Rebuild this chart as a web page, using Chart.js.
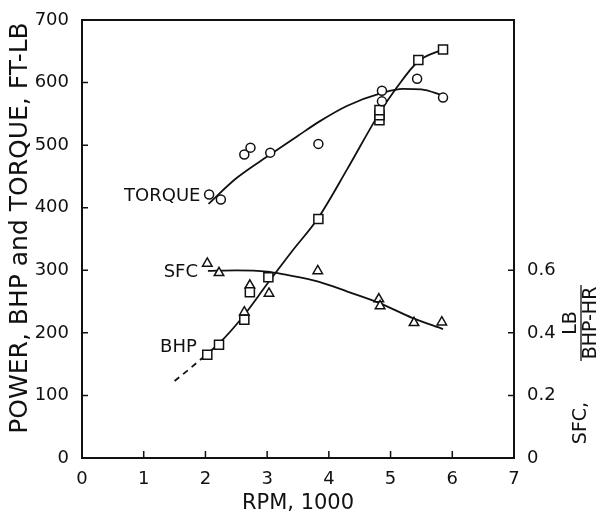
<!DOCTYPE html>
<html>
<head>
<meta charset="utf-8">
<script src="https://cdn.jsdelivr.net/npm/chart.js@4.4.1/dist/chart.umd.min.js"></script>
<style>
  html, body { margin: 0; padding: 0; background: #fff; }
  canvas { display: block; }
</style>
</head>
<body>
<canvas id="engine" width="606" height="517"></canvas>
<script>
const torqueRpm = [2.06, 2.25, 2.63, 2.73, 3.05, 3.83, 4.86, 4.86, 5.43, 5.85];
const torqueVal = [421, 413, 485, 496, 488, 502, 587, 570, 606, 576];

const bhpRpm = [2.03, 2.22, 2.63, 2.72, 3.02, 3.83, 4.82, 4.82, 4.82, 5.45, 5.85];
const bhpVal = [165, 181, 221, 265, 289, 382, 540, 548, 556, 636, 653];

const sfcRpm = [2.03, 2.22, 2.63, 2.72, 3.03, 3.82, 4.81, 4.83, 5.38, 5.83];
const sfcVal = [0.622, 0.592, 0.466, 0.552, 0.526, 0.598, 0.508, 0.486, 0.432, 0.434];

// faired curves drawn through the points
const torqueCurveRpm = [2.05, 2.5, 3.05, 3.5, 3.85, 4.3, 4.85, 5.2, 5.5, 5.83];
const torqueCurveVal = [406, 447, 485, 515, 538, 563, 583, 590, 589, 580];

const bhpCurveRpm = [2.0, 2.22, 2.6, 3.0, 3.4, 3.83, 4.3, 4.8, 5.1, 5.45, 5.85];
const bhpCurveVal = [164, 183, 225, 278, 330, 384, 462, 548, 592, 634, 653];

const bhpDashRpm = [1.5, 1.75, 2.0];
const bhpDashVal = [123, 143, 164];

const sfcCurveRpm = [2.04, 2.5, 3.0, 3.3, 3.83, 4.3, 4.81, 5.35, 5.85];
const sfcCurveVal = [0.598, 0.600, 0.596, 0.586, 0.564, 0.532, 0.496, 0.448, 0.412];

const xTicks = [0, 1, 2, 3, 4, 5, 6, 7];
const yTicks = [0, 100, 200, 300, 400, 500, 600, 700];
const sfcTicks = [0, 0.2, 0.4, 0.6];

const FONT = "'DejaVu Sans', sans-serif";
const INK = '#111';

const pts = (xs, ys) => xs.map((x, i) => ({ x: x, y: ys[i] }));

function marks(xs, ys, style, r, axis) {
    return {
        data: pts(xs, ys),
        yAxisID: axis,
        showLine: false,
        pointStyle: style,
        pointRadius: r,
        pointBorderWidth: 1.5,
        pointBorderColor: INK,
        pointBackgroundColor: '#fff',
        order: 0
    };
}

function curve(xs, ys, axis, dash) {
    return {
        data: pts(xs, ys),
        yAxisID: axis,
        showLine: true,
        borderColor: INK,
        borderWidth: 1.8,
        borderDash: dash || [],
        cubicInterpolationMode: 'monotone',
        pointRadius: 0,
        fill: false,
        order: 1
    };
}

const fixedTicks = list => scale => { scale.ticks = list.map(v => ({ value: v })); };

// box, inward tick marks, curve labels and axis titles
const decorations = {
    id: 'decorations',
    afterDraw(chart) {
        const { ctx, chartArea: a, scales } = chart;
        ctx.save();
        ctx.strokeStyle = INK;
        ctx.fillStyle = INK;
        ctx.lineWidth = 2;
        ctx.strokeRect(a.left, a.top, a.right - a.left, a.bottom - a.top);

        ctx.lineWidth = 1.5;
        ctx.beginPath();
        xTicks.slice(1, -1).forEach(v => {
            const px = scales.x.getPixelForValue(v);
            ctx.moveTo(px, a.bottom); ctx.lineTo(px, a.bottom - 7);
        });
        yTicks.slice(1, -1).forEach(v => {
            const py = scales.y.getPixelForValue(v);
            ctx.moveTo(a.left, py); ctx.lineTo(a.left + 6, py);
        });
        sfcTicks.slice(1).forEach(v => {
            const py = scales.y2.getPixelForValue(v);
            ctx.moveTo(a.right, py); ctx.lineTo(a.right - 6, py);
        });
        ctx.stroke();

        // curve names
        ctx.font = '18px ' + FONT;
        ctx.textAlign = 'right';
        ctx.textBaseline = 'middle';
        ctx.fillText('TORQUE', scales.x.getPixelForValue(1.92), scales.y.getPixelForValue(418));
        ctx.fillText('SFC', scales.x.getPixelForValue(1.88), scales.y.getPixelForValue(296));
        ctx.fillText('BHP', scales.x.getPixelForValue(1.86), scales.y.getPixelForValue(177));

        // x title
        ctx.textAlign = 'center';
        ctx.font = '21px ' + FONT;
        ctx.fillText('RPM, 1000', (a.left + a.right) / 2, 504);

        // left title
        ctx.save();
        ctx.translate(20, 228);
        ctx.rotate(-Math.PI / 2);
        ctx.font = '25px ' + FONT;
        ctx.fillText('POWER, BHP and TORQUE, FT-LB', 0, 0);
        ctx.restore();

        // right title with fraction
        ctx.save();
        ctx.translate(581, 323);
        ctx.rotate(-Math.PI / 2);
        ctx.font = '19px ' + FONT;
        ctx.fillText('SFC,', -100, 0);
        ctx.fillText('LB', 0, -10);
        ctx.fillText('BHP-HR', 0, 10);
        ctx.lineWidth = 1.3;
        ctx.beginPath();
        ctx.moveTo(-38, 0); ctx.lineTo(38, 0);
        ctx.stroke();
        ctx.restore();

        ctx.restore();
    }
};

const tickFont = { family: FONT, size: 18 };

new Chart(document.getElementById('engine'), {
    type: 'scatter',
    data: {
        datasets: [
            marks(torqueRpm, torqueVal, 'circle', 4.5, 'y'),
            marks(bhpRpm, bhpVal, 'rect', 6.4, 'y'),
            marks(sfcRpm, sfcVal, 'triangle', 5.5, 'y2'),
            curve(torqueCurveRpm, torqueCurveVal, 'y'),
            curve(bhpCurveRpm, bhpCurveVal, 'y'),
            curve(bhpDashRpm, bhpDashVal, 'y', [6, 5]),
            curve(sfcCurveRpm, sfcCurveVal, 'y2')
        ]
    },
    options: {
        responsive: false,
        animation: false,
        layout: { padding: { top: 20 } },
        plugins: { legend: { display: false }, tooltip: { enabled: false } },
        scales: {
            x: {
                type: 'linear', min: 0, max: 7,
                grid: { display: false }, border: { display: false },
                afterBuildTicks: fixedTicks(xTicks),
                afterFit: s => { s.height = 59; },
                ticks: { font: tickFont, color: INK, padding: 3, maxRotation: 0 }
            },
            y: {
                type: 'linear', position: 'left', min: 0, max: 700,
                grid: { display: false }, border: { display: false },
                afterBuildTicks: fixedTicks(yTicks),
                afterFit: s => { s.width = 82; },
                ticks: { font: tickFont, color: INK, padding: 5 }
            },
            y2: {
                type: 'linear', position: 'right', min: 0, max: 1.4,
                grid: { display: false }, border: { display: false },
                afterBuildTicks: fixedTicks(sfcTicks),
                afterFit: s => { s.width = 92; },
                ticks: { font: tickFont, color: INK, padding: 5,
                         callback: v => v === 0 ? '0' : v.toFixed(1) }
            }
        }
    },
    plugins: [decorations]
});
</script>
</body>
</html>
